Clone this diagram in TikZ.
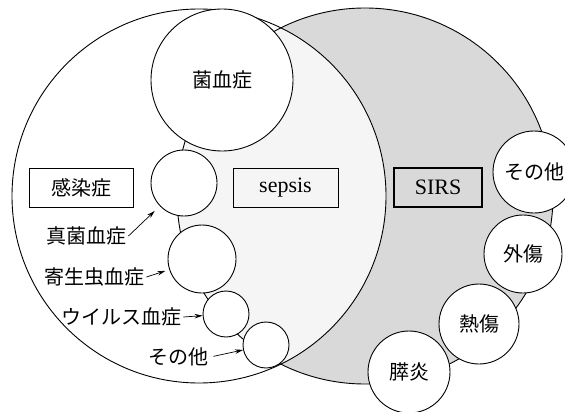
\documentclass[tikz,border=0pt]{standalone}
\usepackage{fontspec}
\setmainfont{Liberation Serif}
\newfontfamily\jp{Noto Sans CJK JP}
\usetikzlibrary{arrows.meta}
\begin{document}
\begin{tikzpicture}[x=1pt,y=-1pt,line width=0.9pt,
  smallc/.style={circle,draw,fill=white,inner sep=0pt,font=\jp\fontsize{20}{20}\selectfont},
  boxn/.style={draw,line width=0.8pt,minimum height=39pt,inner sep=0pt},
  lab/.style={inner sep=2pt,font=\jp\fontsize{20}{20}\selectfont},
  arr/.style={line width=0.7pt,-{Stealth[length=8pt,width=4.5pt]}}]
\useasboundingbox (0,0) rectangle (565,412);
\clip (0,0) rectangle (565,412);
% SIRS and sepsis areas
\fill[black!15] (365,196) circle[radius=188pt];
\begin{scope}
  \clip (199,196) circle[radius=187pt];
  \fill[black!4] (365,196) circle[radius=188pt];
\end{scope}
\draw (199,196) circle[radius=187pt];
\draw (365,196) circle[radius=188pt];
% chain of circles on the left
\node[smallc,minimum size=142pt] (kin) at (222,80) {菌血症};
\node[smallc,minimum size=66pt] (shinkin) at (184,183) {};
\node[smallc,minimum size=68pt] (kisei) at (202,259) {};
\node[smallc,minimum size=46pt] (virus) at (226,314) {};
\node[smallc,minimum size=46pt] (sonotaL) at (266,345) {};
% circles on the right
\node[smallc,minimum size=82pt] (sonotaR) at (534,172) {その他};
\node[smallc,minimum size=78pt] (gaisho) at (523,254) {外傷};
\node[smallc,minimum size=80pt] (nessho) at (479,324) {熱傷};
\node[smallc,minimum size=82pt] (suien) at (409,372) {膵炎};
% boxes
\node[boxn,minimum width=104pt,font=\jp\fontsize{20}{20}\selectfont] (kansen) at (81,187.5) {感染症};
\node[boxn,minimum width=105pt,font=\fontsize{22}{22}\selectfont] (sepsis) at (285.5,187.5) {sepsis};
\node[boxn,line width=1.2pt,minimum width=88pt,font=\fontsize{22}{22}\selectfont] (sirs) at (438,187.5) {SIRS};
% labels
\node[lab] (l1) at (86,236) {真菌血症};
\node[lab] (l2) at (94,277) {寄生虫血症};
\node[lab] (l3) at (121,317) {ウイルス血症};
\node[lab] (l4) at (178,357) {その他};
\draw[arr,shorten >=7pt] (l1.east) -- (shinkin);
\draw[arr,shorten >=4pt] (l2.east) -- (kisei);
\draw[arr] (l3.east) -- (virus);
\draw[arr,shorten <=3pt] (l4.east) -- (sonotaL);
\end{tikzpicture}
\end{document}
